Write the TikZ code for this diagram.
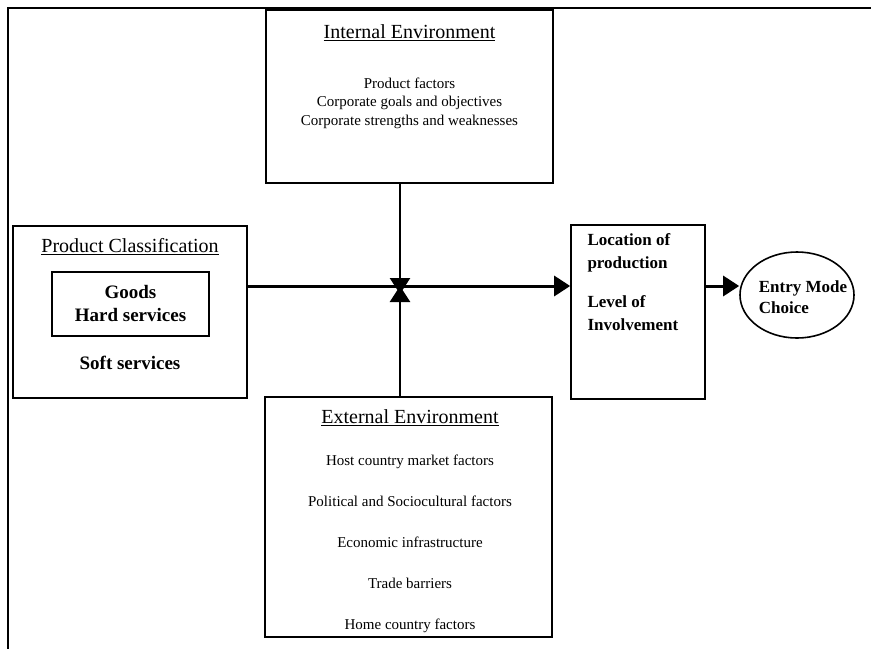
\documentclass[tikz,border=0pt]{standalone}
\usepackage{fontspec}
\setmainfont{Liberation Serif}
\usetikzlibrary{arrows.meta,shapes.geometric}
\begin{document}
\begin{tikzpicture}[x=1pt, y=-1pt,
  box/.style={draw, line width=1.6pt, inner sep=0pt},
  head/.style={font=\fontsize{20}{23}\selectfont},
  item/.style={font=\fontsize{15}{18.5}\selectfont, align=center},
  bolditem/.style={font=\fontsize{19}{23}\selectfont\bfseries, align=center},
  sideitem/.style={font=\fontsize{17}{23}\selectfont\bfseries, align=left},
  flow/.style={line width=2.6pt, -{Triangle[length=16pt, width=20pt]}}]
  \useasboundingbox (0,0) rectangle (871,649);
  \coordinate (corner) at (8,8);
  \draw[line width=2.2pt] (871,8) -- (corner) -- (8,649);

  \node[box, minimum width=287, minimum height=173] (intbox) at (409.5,96.5) {};
  \node[head] (inthead) at (409.5,33) {\underline{Internal Environment}};
  \node[item] (intlist) at (409.5,103) {Product factors\\Corporate goals and objectives\\Corporate strengths and weaknesses};

  \node[box, minimum width=234, minimum height=172] (prodbox) at (130,312) {};
  \node[head] (prodhead) at (130,247) {\underline{Product Classification}};
  \node[box, minimum width=157, minimum height=64] (goodsbox) at (130.5,304) {};
  \node[bolditem] (goods) at (130.5,303) {Goods\\Hard services};
  \node[bolditem] (soft) at (130,363) {Soft services};

  \node[box, minimum width=287, minimum height=240] (extbox) at (408.5,517) {};
  \node[head] (exthead) at (410,418) {\underline{External Environment}};
  \node[item, font=\fontsize{15}{41}\selectfont] (extlist) at (410,543.5) {Host country market factors\\Political and Sociocultural factors\\Economic infrastructure\\Trade barriers\\Home country factors};

  \node[box, minimum width=134, minimum height=174] (locbox) at (638,312) {};
  \node[sideitem, anchor=west] (location) at (584,252.5) {Location of\\production};
  \node[sideitem, anchor=west] (level) at (584,313.5) {Level of\\Involvement};

  \node[box, ellipse, minimum width=114, minimum height=86] (entry) at (797,295) {};
  \node[sideitem, font=\fontsize{17}{21}\selectfont\bfseries] (entrytext) at (803,297.5) {Entry Mode\\Choice};

  \coordinate (hub) at (400,286);
  \coordinate (hubtop) at (400,294);
  \draw[flow, line width=3pt] (prodbox.east |- hub) -- (locbox.west |- hub);
  \draw[flow] (intbox.south -| hub) -- (hubtop);
  \draw[flow] (extbox.north -| hub) -- (hub);
  \draw[flow, line width=3pt] (locbox.east |- hub) -- (entry.west |- hub);
\end{tikzpicture}
\end{document}
